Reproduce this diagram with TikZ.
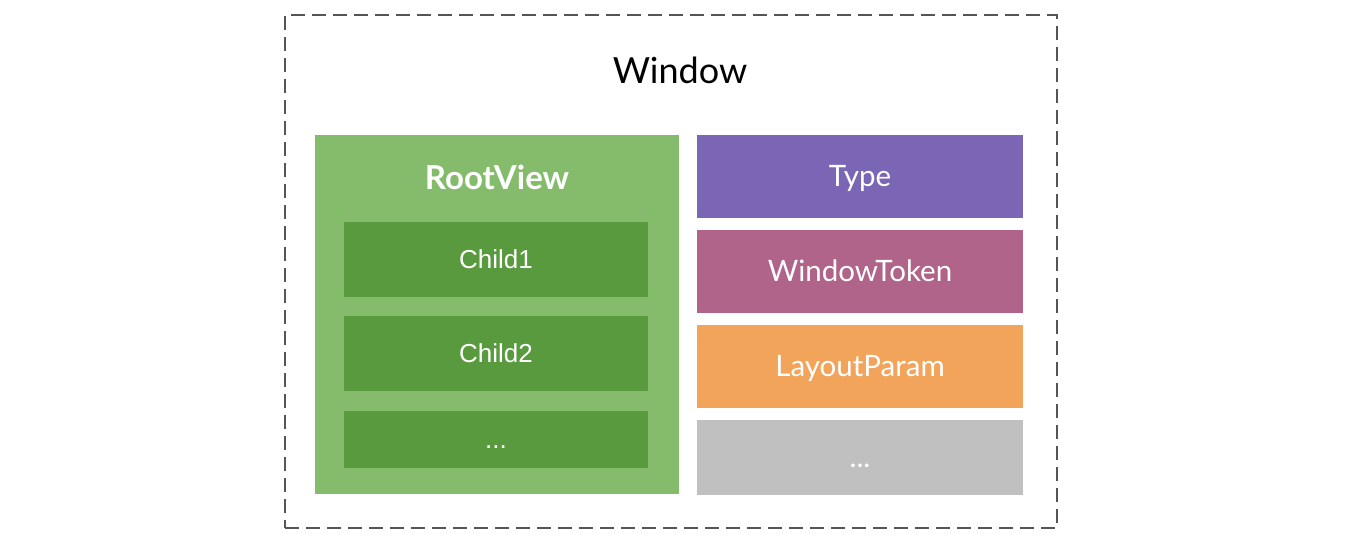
\documentclass[tikz,border=0pt]{standalone}
\usepackage{fontspec}
\setmainfont{Lato}
\newfontfamily\childfont{Liberation Sans}
\usetikzlibrary{positioning}
\definecolor{wGray}{RGB}{85,85,85}
\definecolor{rGreen}{RGB}{132,188,108}
\definecolor{cGreen}{RGB}{90,154,62}
\definecolor{tPurple}{RGB}{123,102,182}
\definecolor{kPink}{RGB}{176,100,137}
\definecolor{lOrange}{RGB}{242,165,90}
\definecolor{eGray}{RGB}{192,192,192}
\tikzset{
    win/.style={rectangle, draw=wGray, line width=2pt, dash pattern=on 14pt off 7pt, inner sep=0pt, minimum width=772pt, minimum height=513pt},
    root/.style={rectangle, fill=rGreen, inner sep=0pt, minimum width=364pt, minimum height=359pt},
    child/.style={rectangle, fill=cGreen, inner sep=0pt, minimum width=304pt, text height=19pt, text depth=2pt, text=white, font=\childfont\fontsize{26}{28}\selectfont},
    prop/.style={rectangle, inner sep=0pt, minimum width=326pt, text height=22pt, text depth=2pt, text=white, font=\fontsize{29.5}{32}\selectfont}
}
\begin{document}
\begin{tikzpicture}[x=1pt,y=-1pt]
\useasboundingbox (0,0) rectangle (1358,546);
\node[win] (window) at (671,271.5) {};
\node[font=\fontsize{36}{40}\selectfont] (title) at (680,70) {Window};
% left column
\node[root] (rootview) at (497,314.5) {};
\node[text=white, font=\bfseries\fontsize{33}{36}\selectfont] (roottitle) at (497,177) {RootView};
\node[child, minimum height=75pt] (child1) at (496,259.5) {Child1};
\node[child, minimum height=75pt] (child2) at (496,353.5) {Child2};
\node[child, minimum height=57pt] (childmore) at (496,439.5) {...};
% right column
\node[prop, fill=tPurple, minimum height=83pt] (type) at (860,176.5) {Type};
\node[prop, fill=kPink, minimum height=83pt] (token) at (860,271.5) {WindowToken};
\node[prop, fill=lOrange, minimum height=83pt] (param) at (860,366.5) {LayoutParam};
\node[prop, fill=eGray, minimum height=75pt] (propmore) at (860,457.5) {...};
\end{tikzpicture}
\end{document}
